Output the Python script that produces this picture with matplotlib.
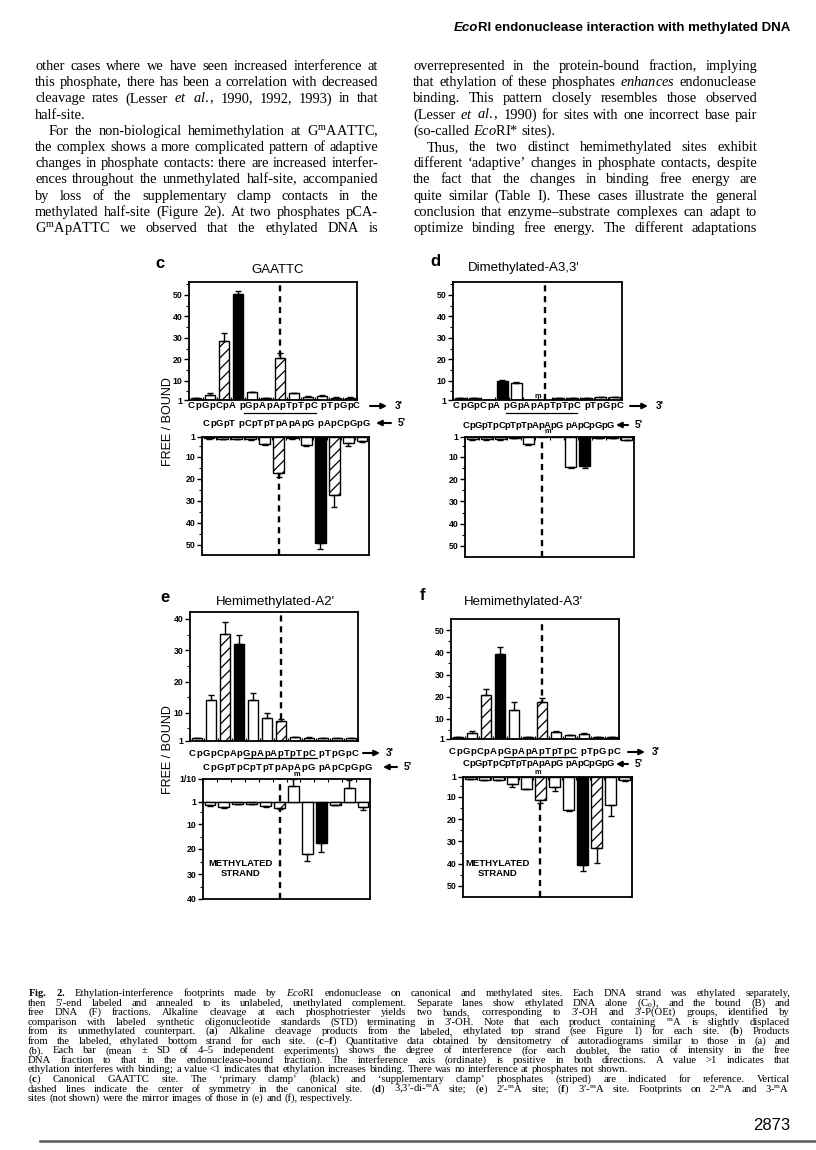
import numpy as np
import matplotlib
matplotlib.use('Agg')
import matplotlib.pyplot as plt
from matplotlib.patches import FancyArrowPatch
from matplotlib.lines import Line2D

W, H = 816, 1150

plt.rcParams['mathtext.fontset'] = 'custom'
plt.rcParams['mathtext.rm'] = 'Liberation Serif'
plt.rcParams['mathtext.it'] = 'Liberation Serif:italic'
plt.rcParams['mathtext.bf'] = 'Liberation Serif:bold'
plt.rcParams['hatch.linewidth'] = 0.9

# FREE/BOUND ratios, 12 phosphates per strand (values < 1 = enhanced binding)
c_top = [1.8, 3.3, 28.5, 50.2, 4.7, 1.8, 20.4, 4.1, 2.6, 3.0, 2.1, 2.1]
c_top_err = [0.2, 1.1, 3.5, 1.8, 0.2, 0.2, 2.3, 0.3, 0.2, 0.4, 0.1, 0.1]
c_bot = [1.5, 1.8, 1.8, 1.9, 4.2, 17.4, 1.6, 4.6, 49.0, 27.5, 3.6, 2.6]
c_bot_err = [0.2, 0.3, 0.3, 0.3, 0.3, 1.6, 0.2, 0.3, 3.0, 5.5, 1.4, 0.6]

d_top = [1.8, 1.8, 1.0, 9.8, 9.1, 1.0, 1.0, 1.8, 1.9, 1.9, 2.4, 2.4]
d_top_err = [0.2, 0.2, 0.0, 0.3, 0.2, 0.0, 0.0, 0.1, 0.2, 0.2, 0.2, 0.2]
d_bot = [2.0, 2.0, 2.0, 1.4, 4.2, 1.0, 1.0, 14.5, 14.0, 1.3, 1.3, 2.2]
d_bot_err = [0.3, 0.3, 0.3, 0.2, 0.3, 0.0, 0.0, 0.3, 0.8, 0.1, 0.1, 0.3]

e_top = [2.0, 14.2, 35.1, 31.9, 14.2, 8.4, 7.3, 2.3, 2.1, 1.8, 2.0, 1.8]
e_top_err = [0.1, 1.4, 4.0, 3.0, 2.2, 1.7, 0.6, 0.1, 0.2, 0.1, 0.1, 0.1]
e_bot = [2.4, 3.3, 2.0, 2.0, 2.8, 3.7, 0.14, 22.1, 17.7, 2.2, 0.16, 3.0]
e_bot_err = [0.2, 0.3, 0.1, 0.1, 0.3, 0.3, 0.04, 2.5, 3.6, 0.2, 0.055, 1.4]

f_top = [2.0, 3.5, 20.8, 39.1, 14.0, 1.9, 17.5, 4.3, 2.8, 3.1, 1.9, 1.9]
f_top_err = [0.1, 1.0, 2.7, 3.4, 3.8, 0.1, 2.1, 0.3, 0.2, 0.4, 0.1, 0.1]
f_bot = [2.0, 2.2, 2.2, 4.0, 6.3, 11.2, 5.5, 15.9, 40.6, 33.0, 13.6, 2.5]
f_bot_err = [0.1, 0.1, 0.1, 1.5, 0.2, 1.3, 1.8, 0.2, 2.7, 6.7, 5.0, 0.2]

top_black, top_hatch = 3, (2, 6)
bot_black, bot_hatch = 8, (5, 9)

body_left = [
    "other cases where we have seen increased interference at",
    "this phosphate, there has been a correlation with decreased",
    r"cleavage rates (Lesser $\mathit{et}$ $\mathit{al.}$, 1990, 1992, 1993) in that",
    "half-site.",
    r">For the non-biological hemimethylation at G$^\mathrm{m}$AATTC,",
    "the complex shows a more complicated pattern of adaptive",
    "changes in phosphate contacts: there are increased interfer-",
    "ences throughout the unmethylated half-site, accompanied",
    "by loss of the supplementary clamp contacts in the",
    "methylated half-site (Figure 2e). At two phosphates pCA-",
    r"G$^\mathrm{m}$ApATTC we observed that the ethylated DNA is",
]
body_right = [
    "overrepresented in the protein-bound fraction, implying",
    r"that ethylation of these phosphates $\mathit{enhances}$ endonuclease",
    "binding. This pattern closely resembles those observed",
    r"(Lesser $\mathit{et}$ $\mathit{al.}$, 1990) for sites with one incorrect base pair",
    r"(so-called $\mathit{Eco}$RI* sites).",
    ">Thus, the two distinct hemimethylated sites exhibit",
    "different ‘adaptive’ changes in phosphate contacts, despite",
    "the fact that the changes in binding free energy are",
    "quite similar (Table I). These cases illustrate the general",
    "conclusion that enzyme–substrate complexes can adapt to",
    "optimize binding free energy. The different adaptations",
]
caption = [
    r"$\mathbf{Fig.}$ $\mathbf{2.}$ Ethylation-interference footprints made by $\mathit{Eco}$RI endonuclease on canonical and methylated sites. Each DNA strand was ethylated separately,",
    r"then 5′-end labeled and annealed to its unlabeled, unethylated complement. Separate lanes show ethylated DNA alone (C$_0$), and the bound (B) and",
    "free DNA (F) fractions. Alkaline cleavage at each phosphotriester yields two bands, corresponding to 3′-OH and 3′-P(OEt) groups, identified by",
    r"comparison with labeled synthetic oligonucleotide standards (STD) terminating in 3′-OH. Note that each product containing $^\mathrm{m}$A is slightly displaced",
    r"from its unmethylated counterpart. ($\mathbf{a}$) Alkaline cleavage products from the labeled, ethylated top strand (see Figure 1) for each site. ($\mathbf{b}$) Products",
    r"from the labeled, ethylated bottom strand for each site. ($\mathbf{c}$–$\mathbf{f}$) Quantitative data obtained by densitometry of autoradiograms similar to those in (a) and",
    "(b). Each bar (mean ± SD of 4–5 independent experiments) shows the degree of interference (for each doublet, the ratio of intensity in the free",
    "DNA fraction to that in the endonuclease-bound fraction). The interference axis (ordinate) is positive in both directions. A value >1 indicates that",
    "ethylation interferes with binding; a value <1 indicates that ethylation increases binding. There was no interference at phosphates not shown.",
    r"($\mathbf{c}$) Canonical GAATTC site. The ‘primary clamp’ (black) and ‘supplementary clamp’ phosphates (striped) are indicated for reference. Vertical",
    r"dashed lines indicate the center of symmetry in the canonical site. ($\mathbf{d}$) 3,3′-di-$^\mathrm{m}$A site; ($\mathbf{e}$) 2′-$^\mathrm{m}$A site; ($\mathbf{f}$) 3′-$^\mathrm{m}$A site. Footprints on 2-$^\mathrm{m}$A and 3-$^\mathrm{m}$A",
    "sites (not shown) were the mirror images of those in (e) and (f), respectively.",
]

fig = plt.figure(figsize=(W / 100, H / 100), dpi=100)
rend = fig.canvas.get_renderer()
serif = 'Liberation Serif'
sans = 'Liberation Sans'


def fp(x, y):
    return x / W, 1 - y / H


def ftext(x, y, s, **kw):
    return fig.text(*fp(x, y), s, **kw)


def text_block(lines, x0, x1, y0, dy, size, ragged=()):
    for i, line in enumerate(lines):
        indent = 0
        if line.startswith('>'):
            indent, line = 14, line[1:]
        words = line.split(' ')
        arts = [ftext(0, 0, w, fontsize=size, family=serif, va='baseline') for w in words]
        widths = [a.get_window_extent(rend).width for a in arts]
        left = x0 + indent
        if i in ragged or len(words) == 1:
            gap = 0.25 * size * 100 / 72
        else:
            gap = (x1 - left - sum(widths)) / (len(words) - 1)
        x = left
        for a, wd in zip(arts, widths):
            a.set_position(fp(x, y0 + i * dy))
            x += wd + gap


def strand(x0, x1, y, s, size=6.8):
    arts, widths = [], []
    for ch in s:
        if ch == ' ':
            arts.append(None)
            widths.append(0.3 * size * 100 / 72)
        else:
            a = ftext(0, 0, ch, fontsize=size, fontweight='bold', family=sans, va='center')
            arts.append(a)
            widths.append(a.get_window_extent(rend).width)
    gap = (x1 - x0 - sum(widths)) / (len(s) - 1)
    x = x0
    for a, wd in zip(arts, widths):
        if a is not None:
            a.set_position(fp(x, y))
        x += wd + gap


def arrow(x_tail, x_head, y):
    fig.add_artist(FancyArrowPatch(fp(x_tail, y), fp(x_head, y), transform=fig.transFigure,
                                   arrowstyle='-|>', mutation_scale=8, lw=1.5, color='k',
                                   shrinkA=0, shrinkB=0))


def hline(x0, x1, y, lw=0.9, color='k'):
    fig.add_artist(Line2D([x0 / W, x1 / W], [1 - y / H] * 2, transform=fig.transFigure,
                          lw=lw, color=color))


def ypos(v):
    v = np.asarray(v, float)
    return np.where(v >= 1, v, 2 - 1 / v)


def bars(box, vals, errs, black, hatched, mid, ylim, ticks, labels, bottom=False):
    l, t, r, b = box
    ax = fig.add_axes([l / W, 1 - b / H, (r - l) / W, (b - t) / H])
    vals = np.asarray(vals, float)
    errs = np.asarray(errs, float)
    x = np.arange(len(vals))
    y = ypos(vals)
    tip = ypos(np.where(vals >= 1, vals + errs, vals - errs))
    for i in x:
        ax.bar(i, y[i] - 1, bottom=1, width=0.78, color='k' if i == black else 'w',
               edgecolor='k', lw=1.0, hatch='///' if i in hatched else None, zorder=2)
    m = errs > 0
    ax.errorbar(x[m], y[m], yerr=[np.maximum(y - tip, 0)[m], np.maximum(tip - y, 0)[m]],
                fmt='none', ecolor='k', elinewidth=1.0, capsize=2.3, capthick=1.0, zorder=3)
    ax.axvline(mid, color='k', lw=1.7, ls=(0, (2.6, 2.0)), zorder=1)
    if ylim[1] < 0:
        ax.axhline(1, color='k', lw=1.0, zorder=1)
    ax.set_xlim(-0.5, 11.5)
    ax.set_ylim(*ylim)
    ax.set_xticks(np.arange(-0.5, 12, 1))
    ax.set_yticks(ticks)
    ax.set_yticklabels(labels, fontsize=6.3, fontweight='bold', family=sans)
    ax.set_yticks(np.arange(5, max(ylim), 10), minor=True)
    if bottom:
        ax.xaxis.set_ticks_position('top')
    ax.tick_params(axis='x', direction='in', length=2.5, width=0.8,
                   labelbottom=False, labeltop=False)
    ax.tick_params(axis='y', which='major', direction='out', length=3.5, width=1.0, pad=1.2)
    ax.tick_params(axis='y', which='minor', direction='out', length=2.0, width=0.8)
    for s in ax.spines.values():
        s.set_linewidth(1.3)
    return ax


t6 = [1, 10, 20, 30, 40, 50]
l6 = ['1', '10', '20', '30', '40', '50']

# panel c
bars((189, 282, 357, 400), c_top, c_top_err, top_black, top_hatch, 6, (1, 56), t6, l6)
bars((202, 437, 369, 555), c_bot, c_bot_err, bot_black, bot_hatch, 5, (54.6, 1), t6, l6, True)
# panel d
bars((453, 282, 622, 400), d_top, d_top_err, top_black, top_hatch, 6, (1, 56), t6, l6)
bars((465, 437, 634, 557), d_bot, d_bot_err, bot_black, bot_hatch, 5, (55, 1), t6, l6, True)
# panel e
bars((190, 612, 358, 741), e_top, e_top_err, top_black, top_hatch, 6, (1, 42.2),
     [1, 10, 20, 30, 40], ['1', '10', '20', '30', '40'])
bars((203, 779, 370, 899), e_bot, e_bot_err, bot_black, bot_hatch, 5, (40, -8),
     [-8, 1, 10, 20, 30, 40], ['1/10', '1', '10', '20', '30', '40'], True)
# panel f
bars((451, 619, 619, 739), f_top, f_top_err, top_black, top_hatch, 6, (1, 55), t6, l6)
bars((463, 777, 632, 897), f_bot, f_bot_err, bot_black, bot_hatch, 5, (55, 1), t6, l6, True)

# panel letters and titles
for lx, ly, let, tx, ty, title in [(160, 264, 'c', 278, 270, 'GAATTC'),
                                   (435, 262, 'd', 524, 268, "Dimethylated-A3,3'"),
                                   (165, 597, 'e', 275, 602, "Hemimethylated-A2'"),
                                   (422, 595, 'f', 523, 602, "Hemimethylated-A3'")]:
    ftext(lx, ly, let, fontsize=12, fontweight='bold', family=sans, ha='center', va='center')
    ftext(tx, ty, title, fontsize=9.5, family=sans, ha='center', va='center')

for yc in (422, 750):
    ftext(168, yc, 'FREE / BOUND', rotation=90, fontsize=9, family=sans, ha='center', va='center')

# strand sequences
top_c = 'CpGpCpA pGpApApTpTpC pTpGpC'
top_e = 'CpGpCpApGpApApTpTpC pTpGpC'
bot_c = 'CpGpT pCpTpTpApApG pApCpGpG'
bot_d = 'CpGpTpCpTpTpApApG pApCpGpG'
for (tx0, tx1, ty, ts, ta, tb, t3,
     bx0, bx1, by, bs, ba, bb, b5, ul) in [
        (188, 360, 406, top_c, 370, 387, 395, 203, 370, 423, bot_c, 391, 376, 398, (244, 316, 413)),
        (453, 623, 406, top_c, 630, 648, 656, 463, 614, 425, bot_d, 628, 616, 635, (506, 577, 413)),
        (189, 358, 753, top_e, 363, 380, 386, 203, 372, 767, bot_d, 397, 383, 404, (244, 317, 758)),
        (449, 620, 752, top_e, 628, 645, 652, 463, 614, 764, bot_d, 628, 616, 635, (504, 577, 757))]:
    strand(tx0, tx1, ty, ts)
    arrow(ta, tb, ty)
    ftext(t3, ty, "3'", fontsize=7.2, fontweight='bold', family=sans, ha='left', va='center')
    strand(bx0, bx1, by, bs)
    arrow(ba, bb, by)
    ftext(b5, by, "5'", fontsize=7.2, fontweight='bold', family=sans, ha='left', va='center')
    hline(ul[0], ul[1], ul[2])

for mx, my in [(538, 397), (548, 432), (297, 774), (538, 772)]:
    ftext(mx, my, 'm', fontsize=5.3, fontweight='bold', family=sans, ha='center', va='center')

for mx in (241, 498):
    ftext(mx, 863, 'METHYLATED', fontsize=6.8, fontweight='bold', family=sans, ha='center', va='center')
    ftext(mx, 874, 'STRAND', fontsize=6.8, fontweight='bold', family=sans, ha='center', va='center')

# running head
head = ftext(790, 31, 'RI endonuclease interaction with methylated DNA', fontsize=9.5,
             fontweight='bold', family=sans, ha='right', va='baseline')
hw = head.get_window_extent(rend).width
ftext(791 - hw, 31, 'Eco', fontsize=9.5, fontweight='bold', style='italic', family=sans,
      ha='right', va='baseline')

text_block(body_left, 35, 378, 70, 16.2, 10.4, ragged=(3,))
text_block(body_right, 413, 757, 70, 16.2, 10.4, ragged=(4,))
text_block(caption, 28, 790, 996, 9.55, 7.7, ragged=(8, 11))

ftext(790, 1130, '2873', fontsize=12, family=sans, ha='right', va='baseline')
hline(40, 816, 1141, lw=1.8, color='0.35')

fig.savefig('out.png', dpi=100, facecolor='white')
